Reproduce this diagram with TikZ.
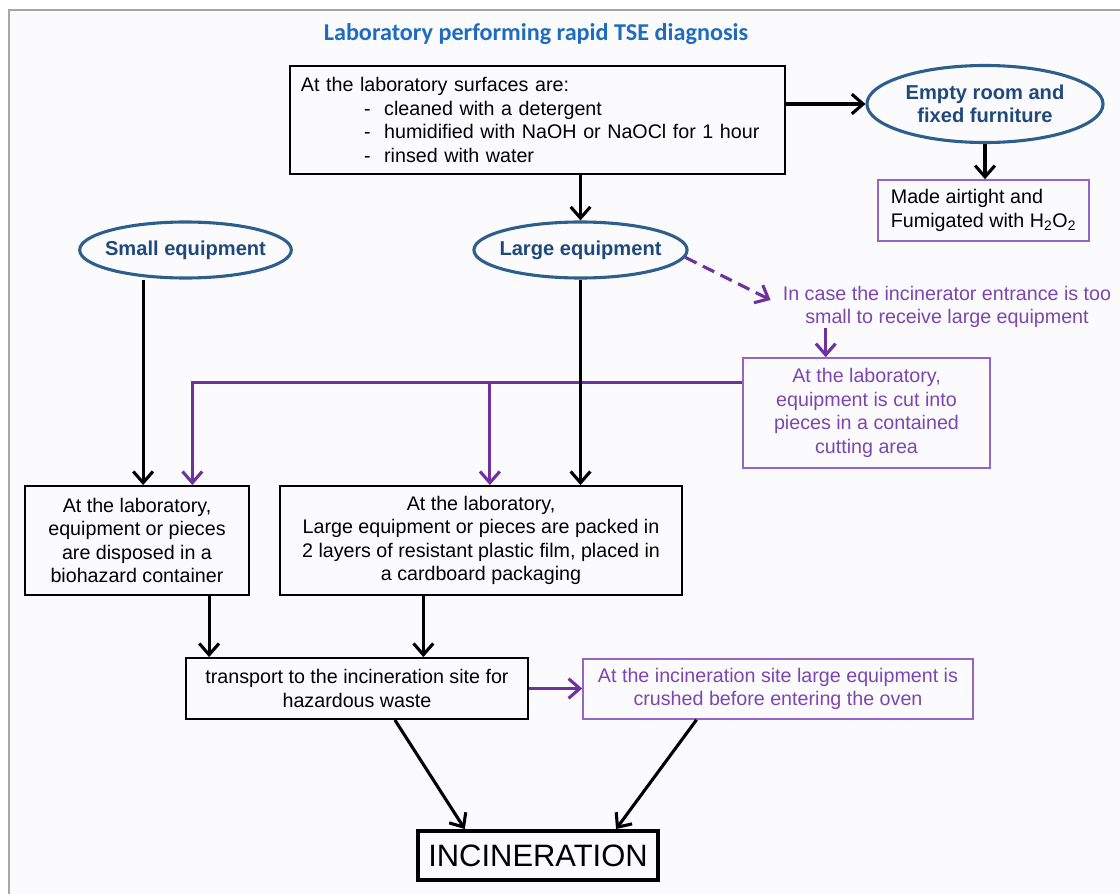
\documentclass[tikz,border=0pt]{standalone}
\usepackage{fontspec}
\setmainfont{Liberation Sans}
\newfontfamily\titlefont{Carlito}
\usetikzlibrary{arrows.meta,shapes.geometric,positioning,calc}
\definecolor{ttlblue}{RGB}{31,108,190}
\definecolor{ellblue}{RGB}{31,73,125}
\definecolor{ellline}{RGB}{46,95,140}
\definecolor{pline}{RGB}{112,48,160}
\definecolor{pbord}{RGB}{150,100,200}
\definecolor{ptext}{RGB}{125,70,175}
\definecolor{bgcol}{RGB}{251,251,253}
\newcommand{\itm}[1]{\hspace*{1.58cm}\makebox[0.5cm][l]{-}#1}

\begin{document}
\begin{tikzpicture}[x=0.025cm,y=-0.025cm,
  txt/.style={font=\fontsize{14}{16.7}\selectfont},
  box/.style={txt,draw=black,line width=1.3pt,align=center,inner sep=0pt},
  pbox/.style={box,draw=pbord,line width=1.1pt,text=ptext},
  oval/.style={ellipse,draw=ellline,line width=2.2pt,text=ellblue,align=center,inner ysep=0pt,inner xsep=-4pt,font=\fontsize{14.3}{16}\selectfont\bfseries},
  arr/.style={line width=2.2pt,-{Straight Barb[length=8pt,width=14pt]}},
  parr/.style={arr,draw=pline}]

\useasboundingbox (0,0) rectangle (1120,894);
\fill[white] (0,0) rectangle (1120,894);
\fill[bgcol] (9,10) rectangle (1120,894);
\draw[gray!70,line width=0.8pt] (9,894) -- (9,10) -- (1120,10);

\node (ttl) at (536,34) {\titlefont\fontsize{17.2}{20}\selectfont\bfseries\color{ttlblue}Laboratory performing rapid TSE diagnosis};

\node[box,align=left,text width=11.825cm,inner xsep=0.275cm,minimum height=2.7cm] (surf) at (537.5,120)
  {At the laboratory surfaces are:\\ \itm{cleaned with a detergent}\\ \itm{humidified with NaOH or NaOCl for 1 hour}\\ \itm{rinsed with water}};
\node[oval,minimum width=5.9cm,minimum height=1.925cm] (empty) at (985,104) {Empty room and\\fixed furniture};
\node[box,draw=pbord,line width=1.1pt,align=left,minimum width=5.275cm,minimum height=1.525cm] (airt) at (983.5,210.5)
  {Made airtight and\\Fumigated with H\textsubscript{2}O\textsubscript{2}};

\node[oval,minimum width=5.225cm,minimum height=1.4cm] (small) at (185.5,250) {Small equipment};
\node[oval,minimum width=4.975cm,minimum height=1.4cm] (large) at (580.5,250) {Large equipment};

\node[txt,text=ptext,align=center,inner sep=0pt] (case) at (947,307) {In case the incinerator entrance is too\\small to receive large equipment};
\node[pbox,minimum width=6.175cm,minimum height=2.75cm] (cut) at (866.5,413)
  {At the laboratory,\\equipment is cut into\\pieces in a contained\\cutting area};

\node[box,minimum width=5.6cm,minimum height=2.725cm] (sbox) at (137,540.5)
  {At the laboratory,\\equipment or pieces\\are disposed in a\\biohazard container};
\node[box,minimum width=10.05cm,minimum height=2.725cm] (lbox) at (481,540.5)
  {At the laboratory,\\Large equipment or pieces are packed in\\2 layers of resistant plastic film, placed in\\a cardboard packaging};

\node[box,minimum width=8.55cm,minimum height=1.525cm] (tr) at (357,688.5)
  {transport to the incineration site for\\hazardous waste};
\node[pbox,minimum width=9.75cm,minimum height=1.5cm] (cr) at (778,689)
  {At the incineration site large equipment is\\crushed before entering the oven};

\node[box,line width=2.8pt,minimum width=6cm,minimum height=1.225cm,font=\fontsize{22}{26}\selectfont] (inc) at (538,855.5) {INCINERATION};

\coordinate (j) at ($(cut.north west)!0.227!(cut.south west)$);
\coordinate (sp) at ($(sbox.north west)!0.745!(sbox.north east)$);
\coordinate (lp) at ($(lbox.north west)!0.522!(lbox.north east)$);
\coordinate (sb) at ($(sbox.north west)!0.527!(sbox.north east)$);
\coordinate (trL) at ($(tr.north west)!0.07!(tr.north east)$);
\coordinate (trR) at ($(tr.north west)!0.693!(tr.north east)$);
\coordinate (trB) at ($(tr.south west)!0.61!(tr.south east)$);
\coordinate (crB) at ($(cr.south west)!0.292!(cr.south east)$);
\coordinate (incL) at ($(inc.north west)!0.2!(inc.north east)$);
\coordinate (incR) at ($(inc.north west)!0.82!(inc.north east)$);
\coordinate (cutp) at ($(cut.north west)!0.336!(cut.north east)$);
\coordinate (caseIn) at ($(case.west)+(-12,-7)$);

\draw[arr] (surf.east |- empty.west) -- (empty.west);
\draw[arr] (empty.south) -- (empty.south |- airt.north);
\draw[arr] (large.north |- surf.south) -- (large.north);

\draw[parr,dashed,dash pattern=on 9pt off 5pt] (large.-4) -- (caseIn);
\draw[parr] (case.south -| cutp) -- (cutp);
\draw[parr] (j) -| (sp);
\draw[parr] (lp |- j) -- (lp);

\draw[arr] (sb |- small.south) -- (sb);
\draw[arr] (large.south) -- (large.south |- lbox.north);
\draw[arr] (sbox.south -| trL) -- (trL);
\draw[arr] (lbox.south -| trR) -- (trR);
\draw[parr] (tr.east) -- (tr.east -| cr.west);
\draw[arr] (trB) -- (incL);
\draw[arr] (crB) -- (incR);
\end{tikzpicture}
\end{document}
